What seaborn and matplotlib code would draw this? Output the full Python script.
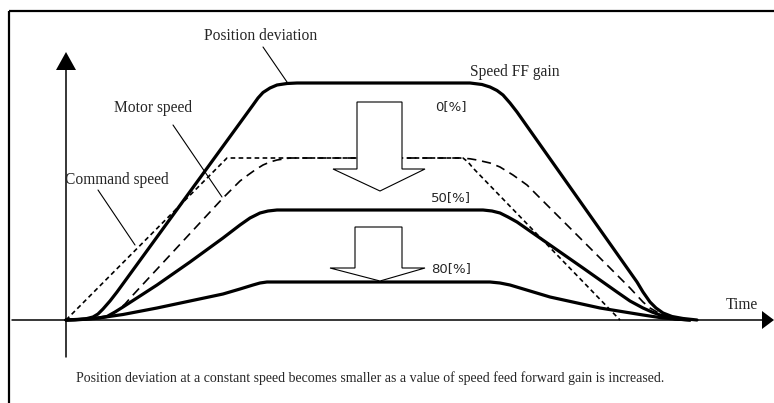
import pandas as pd
import matplotlib
matplotlib.use('Agg')
import matplotlib.pyplot as plt
from matplotlib.patches import Polygon
import seaborn as sns

# time (px right of origin) and value (px above time axis)
cmd_t = [0, 161, 397, 402, 407, 554]
cmd_v = [0, 162, 162, 158, 152, 0]

motor_t = [0, 14, 27, 37, 44, 51, 59, 67, 157, 167, 174, 182, 189, 197, 204, 211, 224,
           394, 404, 411, 424, 434, 447, 461, 472, 484, 551, 564, 577, 584, 591, 598, 606, 614]
motor_v = [0, 0.4, 1.2, 2.5, 5, 9, 16, 25, 122, 132, 139, 145, 150, 155, 158, 160, 162,
           162, 161.2, 160, 157, 153, 145, 135, 124, 112, 45, 32, 18, 12, 8, 4.5, 1.5, 0]

ff0_t = [0, 9, 19, 27, 32, 37, 44, 51, 187, 192, 197, 204, 211, 221, 231,
         404, 416, 424, 431, 437, 444, 451, 571, 577, 584, 590, 597, 606, 617, 631]
ff0_v = [0, 0.2, 1, 3, 6, 11, 19, 28, 215, 222, 227.5, 232, 235, 236.5, 237,
         237, 235.5, 233, 229.5, 225, 217, 208, 38, 28, 18, 12, 7, 3.5, 1.5, 0]

ff50_t = [0, 14, 29, 41, 49, 57, 91, 124, 157, 174, 184, 194, 202, 211,
          417, 426, 434, 442, 451, 484, 517, 551, 564, 577, 586, 594, 609, 624]
ff50_v = [0, 0.4, 1.5, 3.5, 8, 13, 35, 58, 82, 95, 102, 107, 109, 110,
          110, 109, 107, 103, 98, 75, 52, 28, 19, 12, 8, 5, 1, 0]

ff80_t = [0, 19, 34, 57, 91, 124, 157, 174, 187, 194, 201,
          424, 434, 444, 464, 484, 534, 577, 597, 624]
ff80_v = [0, 1, 2.2, 5.5, 12, 19, 26, 31, 35, 37, 38,
          38, 37, 35, 29, 23, 12, 5, 2, 0]

gain_labels = ['0[%]', '50[%]', '80[%]']
caption = ('Position deviation at a constant speed becomes smaller as a value '
           'of speed feed forward gain is increased.')

sns.set_style('white')
plt.rcParams['font.family'] = ['Liberation Serif', 'DejaVu Serif']

fig = plt.figure(figsize=(7.74, 4.03), dpi=100)
ax = fig.add_axes([0, 0, 1, 1])
ax.set_xlim(-66, 708)
ax.set_ylim(-83, 320)
ax.axis('off')

# frame (top and left)
ax.plot([-57, 708], [309, 309], color='black', lw=1.6, solid_capstyle='butt')
ax.plot([-57, -57], [309, -83], color='black', lw=1.6, solid_capstyle='butt')

# axes with arrow heads
ax.plot([-54, 697], [0, 0], color='black', lw=1.1)
ax.plot([0, 0], [-37, 252], color='black', lw=1.1)
ax.add_patch(Polygon([[-10, 250], [10, 250], [0, 268]], closed=True,
                     color='black', lw=0))
ax.add_patch(Polygon([[696, 9], [696, -9], [708, 0]], closed=True,
                     color='black', lw=0))

df = pd.concat([
    pd.DataFrame({'t': cmd_t, 'v': cmd_v, 'curve': 'command'}),
    pd.DataFrame({'t': motor_t, 'v': motor_v, 'curve': 'motor'}),
    pd.DataFrame({'t': ff0_t, 'v': ff0_v, 'curve': 'ff0'}),
    pd.DataFrame({'t': ff50_t, 'v': ff50_v, 'curve': 'ff50'}),
    pd.DataFrame({'t': ff80_t, 'v': ff80_v, 'curve': 'ff80'}),
], ignore_index=True)

sns.lineplot(data=df[df.curve == 'command'], x='t', y='v', ax=ax,
             color='black', lw=1.2, estimator=None, sort=False,
             linestyle=(0, (2.8, 2.0)))
sns.lineplot(data=df[df.curve == 'motor'], x='t', y='v', ax=ax,
             color='black', lw=1.2, estimator=None, sort=False,
             linestyle=(0, (5.5, 3.5)))
for c in ['ff0', 'ff50', 'ff80']:
    sns.lineplot(data=df[df.curve == c], x='t', y='v', ax=ax,
                 color='black', lw=2.3, estimator=None, sort=False,
                 solid_joinstyle='round', solid_capstyle='round')

# hollow arrows
arr1 = [[291, 218], [336, 218], [336, 151], [359, 151], [314, 129],
        [267, 151], [291, 151]]
arr2 = [[289, 93], [336, 93], [336, 52], [359, 52], [314, 39],
        [264, 52], [289, 52]]
for a in [arr1, arr2]:
    ax.add_patch(Polygon(a, closed=True, facecolor='white',
                         edgecolor='black', lw=0.8, zorder=5))

# labels and leader lines
fs = 11.2
ax.text(195, 284, 'Position deviation', fontsize=fs, ha='center', va='center')
ax.plot([197, 221], [273, 238], color='black', lw=0.8)
ax.text(449, 248, 'Speed FF gain', fontsize=fs, ha='center', va='center')
ax.text(87, 212, 'Motor speed', fontsize=fs, ha='center', va='center')
ax.plot([107, 156], [195, 123], color='black', lw=0.8)
ax.text(-1, 140, 'Command speed', fontsize=fs, ha='left', va='center')
ax.plot([32, 69], [130, 75], color='black', lw=0.8)
ax.text(676, 15, 'Time', fontsize=fs, ha='center', va='center')

for lab, (x, y) in zip(gain_labels, [(385, 213), (385, 122), (385, 51)]):
    ax.text(x, y, lab, fontsize=9.5, ha='center', va='center',
            family=['DejaVu Sans'])

ax.text(304, -58, caption, fontsize=10, ha='center', va='center')

fig.savefig('out.png', dpi=100)
